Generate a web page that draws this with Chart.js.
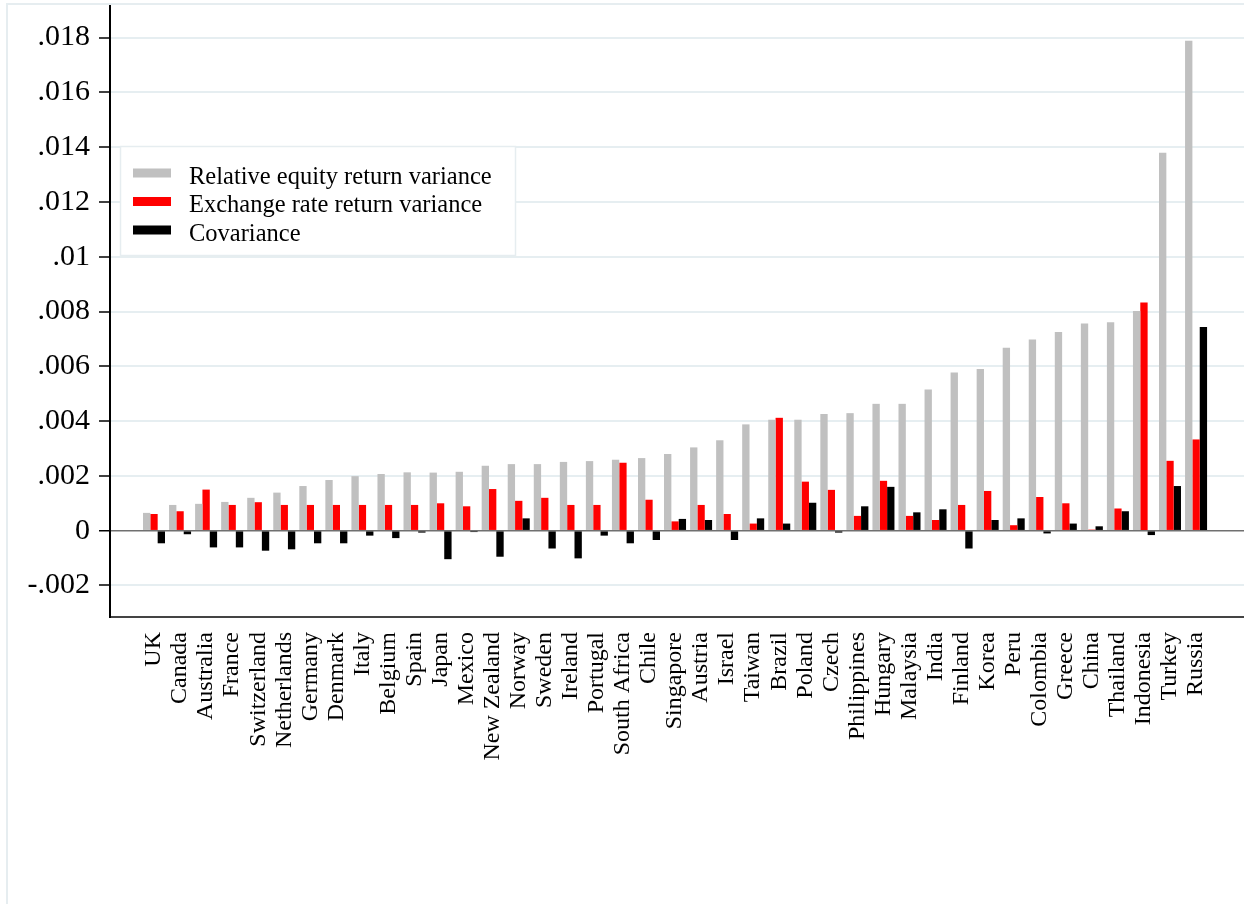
<!DOCTYPE html>
<html>
<head>
<meta charset="utf-8">
<title>Variance decomposition by country</title>
<script src="https://cdn.jsdelivr.net/npm/chart.js@4.4.1/dist/chart.umd.min.js"></script>
<style>
  html, body { margin: 0; padding: 0; background: #ffffff; }
  canvas { display: block; }
</style>
</head>
<body>
<canvas id="chart" width="1244" height="904"></canvas>
<script>
// Countries, ordered by relative equity return variance
const countries = ['UK','Canada','Australia','France','Switzerland','Netherlands','Germany','Denmark','Italy','Belgium','Spain','Japan','Mexico','New Zealand','Norway','Sweden','Ireland','Portugal','South Africa','Chile','Singapore','Austria','Israel','Taiwan','Brazil','Poland','Czech','Philippines','Hungary','Malaysia','India','Finland','Korea','Peru','Colombia','Greece','China','Thailand','Indonesia','Turkey','Russia'];

const equityVariance = [0.00065,0.00094,0.00098,0.00105,0.00120,0.00139,0.00163,0.00185,0.00199,0.00207,0.00213,0.00212,0.00215,0.00237,0.00243,0.00243,0.00251,0.00254,0.00259,0.00265,0.00280,0.00304,0.00330,0.00388,0.00405,0.00405,0.00426,0.00429,0.00463,0.00463,0.00515,0.00577,0.00590,0.00668,0.00698,0.00725,0.00756,0.00761,0.00802,0.01379,0.01788];

const fxVariance = [0.00061,0.00071,0.00150,0.00094,0.00104,0.00094,0.00094,0.00094,0.00094,0.00094,0.00094,0.00100,0.00089,0.00152,0.00109,0.00120,0.00094,0.00094,0.00248,0.00113,0.00034,0.00094,0.00061,0.00026,0.00412,0.00179,0.00149,0.00054,0.00182,0.00054,0.00039,0.00094,0.00145,0.00020,0.00123,0.00100,0.00004,0.00081,0.00833,0.00255,0.00333];

const covariance = [-0.00046,-0.00013,-0.00061,-0.00061,-0.00073,-0.00068,-0.00046,-0.00046,-0.00018,-0.00027,-0.00007,-0.00104,-0.00005,-0.00095,0.00045,-0.00065,-0.00101,-0.00018,-0.00046,-0.00034,0.00043,0.00039,-0.00034,0.00045,0.00026,0.00102,-0.00007,0.00089,0.00160,0.00067,0.00078,-0.00065,0.00039,0.00045,-0.00010,0.00026,0.00016,0.00071,-0.00016,0.00163,0.00743];

const seriesNames = ['Relative equity return variance', 'Exchange rate return variance', 'Covariance'];
const seriesColors = ['#c0c0c0', '#ff0000', '#000000'];

const yTickValues = [-0.002, 0, 0.002, 0.004, 0.006, 0.008, 0.010, 0.012, 0.014, 0.016, 0.018];
const yTickLabels = ['-.002', '0', '.002', '.004', '.006', '.008', '.01', '.012', '.014', '.016', '.018'];

const SERIF = '"Liberation Serif", "Times New Roman", serif';

const toPoints = arr => arr.map((v, i) => ({ x: i, y: v }));

// White page with a faint outer frame
const framePlugin = {
  id: 'frame',
  beforeDraw(chart) {
    const ctx = chart.ctx;
    ctx.save();
    ctx.fillStyle = '#ffffff';
    ctx.fillRect(0, 0, chart.width, chart.height);
    ctx.strokeStyle = '#e6edf0';
    ctx.lineWidth = 2;
    ctx.strokeRect(7, 4, chart.width + 20, chart.height + 20);
    ctx.restore();
  }
};

// Boxed legend placed inside the plot region
const boxLegend = {
  id: 'boxLegend',
  afterDatasetsDraw(chart) {
    const ctx = chart.ctx;
    const box = { x: 120.5, y: 146.5, w: 395, h: 109 };
    ctx.save();
    ctx.fillStyle = '#ffffff';
    ctx.fillRect(box.x, box.y, box.w, box.h);
    ctx.strokeStyle = '#e6edf0';
    ctx.lineWidth = 1.5;
    ctx.strokeRect(box.x, box.y, box.w, box.h);
    ctx.font = '24.5px ' + SERIF;
    ctx.textBaseline = 'alphabetic';
    ctx.textAlign = 'left';
    chart.data.datasets.forEach((ds, i) => {
      const cy = 173 + i * 28.5;
      ctx.fillStyle = ds.backgroundColor;
      ctx.fillRect(133, cy - 4.5, 38, 9);
      ctx.fillStyle = '#000000';
      ctx.fillText(ds.label, 189, cy + 10.5);
    });
    ctx.restore();
  }
};

const noPad = axis => {
  axis.paddingLeft = 0; axis.paddingRight = 0;
  axis.paddingTop = 0; axis.paddingBottom = 0;
};

new Chart(document.getElementById('chart'), {
  type: 'bar',
  data: {
    datasets: [
      { label: seriesNames[0], data: toPoints(equityVariance), backgroundColor: seriesColors[0] },
      { label: seriesNames[1], data: toPoints(fxVariance), backgroundColor: seriesColors[1] },
      { label: seriesNames[2], data: toPoints(covariance), backgroundColor: seriesColors[2] }
    ]
  },
  options: {
    responsive: false,
    animation: false,
    devicePixelRatio: 1,
    layout: { autoPadding: false, padding: { left: 0, top: 6, right: 0, bottom: 0 } },
    datasets: { bar: { categoryPercentage: 0.845, barPercentage: 1.0, borderWidth: 0 } },
    plugins: {
      legend: { display: false },
      tooltip: { enabled: false }
    },
    scales: {
      x: {
        type: 'linear',
        offset: false,
        min: -1.689,
        max: 41.84,
        afterBuildTicks(axis) {
          axis.ticks = countries.map((_, i) => ({ value: i }));
        },
        afterFit(axis) { axis.height = 904 - 617; noPad(axis); },
        grid: { display: false, drawTicks: false, offset: false },
        border: { display: true, color: '#444444', width: 2 },
        ticks: {
          autoSkip: false,
          minRotation: 90,
          maxRotation: 90,
          padding: 15,
          color: '#000000',
          font: { family: SERIF, size: 24 },
          callback: v => countries[v]
        }
      },
      y: {
        type: 'linear',
        min: -0.00315,
        max: 0.01915,
        afterBuildTicks(axis) {
          axis.ticks = yTickValues.map(v => ({ value: v }));
        },
        afterFit(axis) { axis.width = 110; noPad(axis); },
        grid: {
          color: ctx => (ctx.tick && Math.abs(ctx.tick.value) < 1e-9) ? '#707070' : '#e6eef1',
          lineWidth: ctx => (ctx.tick && Math.abs(ctx.tick.value) < 1e-9) ? 1.5 : 2,
          drawTicks: true,
          tickLength: 11,
          tickColor: '#000000',
          tickWidth: 1.5
        },
        border: { display: true, color: '#000000', width: 2 },
        ticks: {
          padding: 9,
          color: '#000000',
          font: { family: SERIF, size: 30 },
          callback: v => {
            const k = yTickValues.findIndex(t => Math.abs(t - v) < 1e-9);
            return k >= 0 ? yTickLabels[k] : '';
          }
        }
      }
    }
  },
  plugins: [framePlugin, boxLegend]
});
</script>
</body>
</html>
